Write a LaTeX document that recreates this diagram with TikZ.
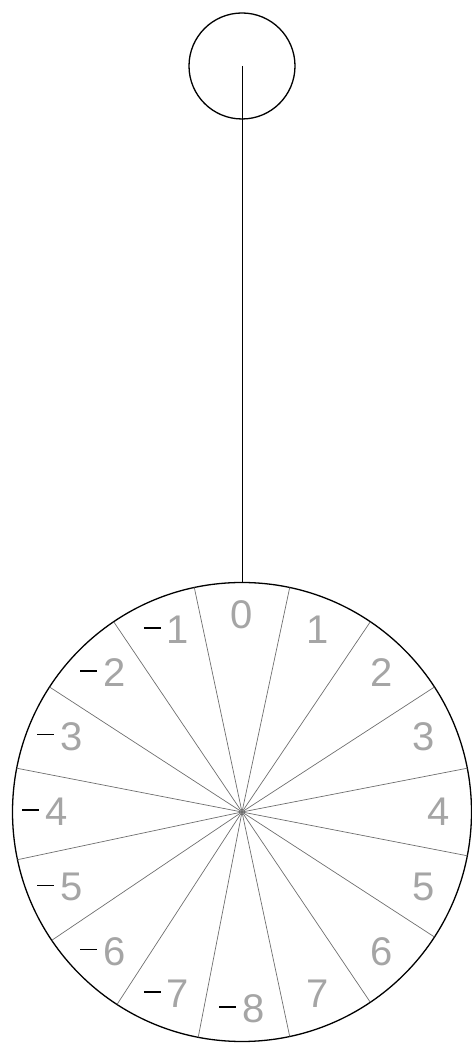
\documentclass[tikz,border=0pt]{standalone}
\usepackage{fontspec}
\setmainfont{Liberation Sans}
\usepackage{xcolor}
\usetikzlibrary{calc}
\definecolor{digitclr}{RGB}{165,165,165}
\definecolor{spokeclr}{RGB}{110,110,110}
\newcommand{\blkminus}{{\color{black}\rule[15pt]{17pt}{1.4pt}}\hspace{6pt}}

\begin{document}
\begin{tikzpicture}[
    x=1pt, y=1pt,
    rim/.style   ={draw, circle, line width=1.3pt, inner sep=0pt, outer sep=0pt},
    spoke/.style ={draw=spokeclr, line width=0.7pt},
    num/.style   ={font=\fontsize{40}{40}\selectfont, text=digitclr, inner sep=0pt},
    rod/.style   ={draw, line width=1pt},
]
\useasboundingbox (0,0) rectangle (471,1043);

% =============== Bob and dial ===============
\node[rim, minimum size=106pt] (bob)  at (242,977) {};
\node[rim, minimum size=459pt] (dial) at (242,231) {};

% =============== Rod ===============
\draw[rod] (bob.center) -- (dial.north);

% =============== Sector lines ===============
\foreach \a in {78.75,56.25,...,-258.75}{%
  \draw[spoke] (dial.center) -- (dial.\a);
}

% =============== Sector numbers ===============
\foreach \a/\t [count=\i] in {90/0, 67.5/1, 45/2, 22.5/3, 0/4, -22.5/5, -45/6, -67.5/7,
    270/{\blkminus8}, 247.5/{\blkminus7}, 225/{\blkminus6}, 202.5/{\blkminus5},
    180/{\blkminus4}, 157.5/{\blkminus3}, 135/{\blkminus2}, 112.5/{\blkminus1}}{%
  \node[num] (lbl\i) at ($(dial.center)+(\a:197)$) {\t};
}

\end{tikzpicture}
\end{document}
